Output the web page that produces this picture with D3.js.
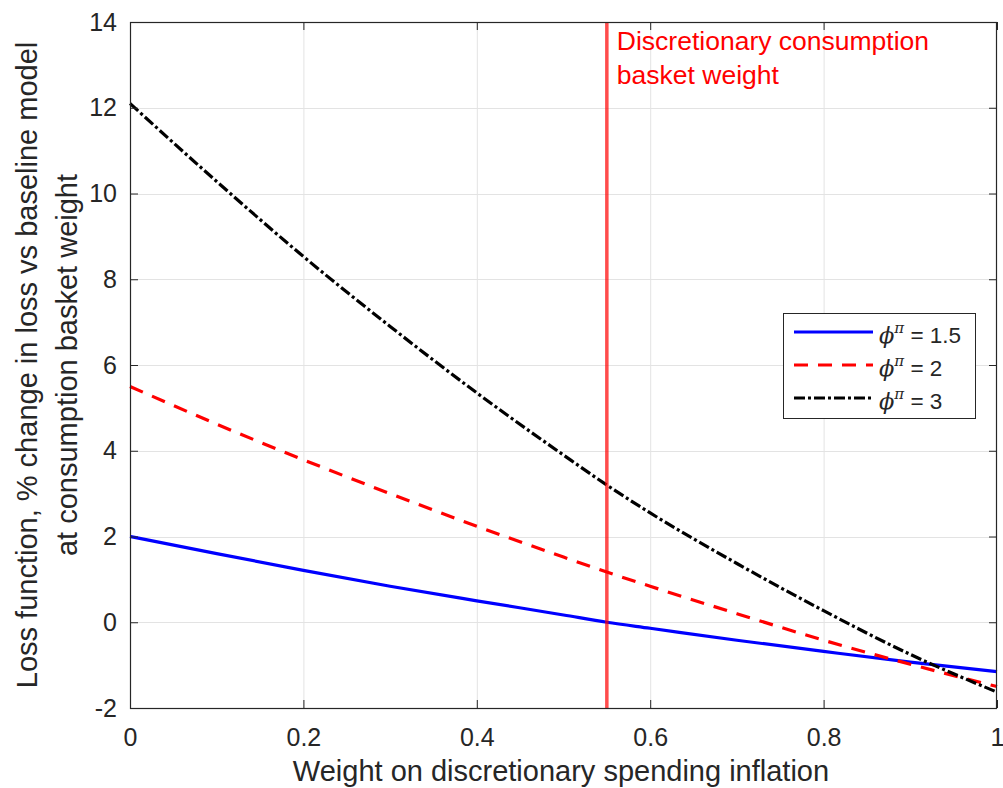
<!DOCTYPE html>
<html lang="en">
<head>
  <meta charset="utf-8">
  <title>Loss function vs weight on discretionary spending inflation</title>
  <style>
    html, body { margin:0; padding:0; background:#fff; overflow:hidden; }
    svg { display:block; font-family:"Liberation Sans", Arial, sans-serif; }
  </style>
</head>
<body>
  <svg id="chart" width="1003" height="788"></svg>
  <script src="https://cdnjs.cloudflare.com/ajax/libs/d3/7.8.5/d3.min.js"></script>
  <script>
    // data
    const weights   = [0, 0.1, 0.2, 0.3, 0.4, 0.5, 0.55, 0.6, 0.7, 0.8, 0.9, 1.0];
    const lossPhi15 = [2.0, 1.6, 1.21, 0.84, 0.5, 0.17, 0.0, -0.14, -0.42, -0.68, -0.93, -1.15];
    const lossPhi2  = [5.5, 4.62, 3.79, 3.0, 2.24, 1.52, 1.17, 0.84, 0.2, -0.42, -0.98, -1.5];
    const lossPhi3  = [12.1, 10.28, 8.53, 6.9, 5.35, 3.9, 3.2, 2.55, 1.37, 0.27, -0.75, -1.63];
    const seriesLabels = ["1.5", "2", "3"];
    const basketWeight = 0.55;
    const xTicks = [0, 0.2, 0.4, 0.6, 0.8, 1];
    const yTicks = [-2, 0, 2, 4, 6, 8, 10, 12, 14];

    const series = [
      {label: seriesLabels[0], values: lossPhi15, color: "#0000ff", dash: null},
      {label: seriesLabels[1], values: lossPhi2,  color: "#ff0000", dash: "14,10"},
      {label: seriesLabels[2], values: lossPhi3,  color: "#000000", dash: "11,3,3,3"}
    ];

    const svg = d3.select("#chart");
    const axisCol = "#262626";
    const pL = 130, pR = 997, pT = 22, pB = 708;

    const x = d3.scaleLinear().domain([0, 1]).range([pL, pR]);
    const y = d3.scaleLinear().domain([-2, 14]).range([pB, pT]);

    // grid
    const grid = svg.append("g").attr("stroke", "#e3e3e3").attr("stroke-width", 1);
    grid.selectAll(".gx").data(xTicks.slice(1, -1)).join("line")
      .attr("x1", d => x(d) + 0.5).attr("x2", d => x(d) + 0.5)
      .attr("y1", pT).attr("y2", pB);
    grid.selectAll(".gy").data(yTicks.slice(1, -1)).join("line")
      .attr("y1", d => Math.round(y(d)) + 0.5).attr("y2", d => Math.round(y(d)) + 0.5)
      .attr("x1", pL).attr("x2", pR);

    // curves
    const line = d3.line().curve(d3.curveMonotoneX)
      .x((d, i) => x(weights[i])).y(d => y(d));

    svg.append("g").selectAll("path").data(series).join("path")
      .attr("d", d => line(d.values))
      .attr("fill", "none")
      .attr("stroke", d => d.color)
      .attr("stroke-width", 3.2)
      .attr("stroke-dasharray", d => d.dash);

    // vertical marker for basket weight
    svg.append("line")
      .attr("x1", x(basketWeight)).attr("x2", x(basketWeight))
      .attr("y1", pT).attr("y2", pB)
      .attr("stroke", "#ff0000").attr("stroke-opacity", 0.7).attr("stroke-width", 3.5);

    svg.append("text")
      .attr("fill", "#ff0000").attr("font-size", 26.5)
      .selectAll("tspan").data(["Discretionary consumption", "basket weight"]).join("tspan")
      .attr("x", x(basketWeight) + 10).attr("y", (d, i) => 50 + i * 34)
      .text(d => d);

    // axes, ticks inside, box on
    const fmt = d => String(d);
    function style(g) {
      g.select(".domain").remove();
      g.selectAll("line").attr("stroke", axisCol);
      g.selectAll("text").attr("fill", axisCol).attr("font-size", 25)
        .attr("font-family", "'Liberation Sans', Arial, sans-serif");
    }
    svg.append("g").attr("transform", `translate(0,${pB})`)
      .call(d3.axisBottom(x).tickValues(xTicks).tickFormat(fmt).tickSize(-8).tickPadding(20))
      .call(style);
    svg.append("g").attr("transform", `translate(0,${pT})`)
      .call(d3.axisTop(x).tickValues(xTicks).tickFormat("").tickSize(-8))
      .call(style);
    svg.append("g").attr("transform", `translate(${pL},0)`)
      .call(d3.axisLeft(y).tickValues(yTicks).tickFormat(fmt).tickSize(-8).tickPadding(13))
      .call(style);
    svg.append("g").attr("transform", `translate(${pR},0)`)
      .call(d3.axisRight(y).tickValues(yTicks).tickFormat("").tickSize(-8))
      .call(style);

    svg.append("rect")
      .attr("x", pL + 0.5).attr("y", pT + 0.5)
      .attr("width", pR - pL - 1).attr("height", pB - pT)
      .attr("fill", "none").attr("stroke", axisCol).attr("stroke-width", 1.2);

    // axis labels
    svg.append("text")
      .attr("x", 561).attr("y", 781)
      .attr("text-anchor", "middle").attr("fill", axisCol).attr("font-size", 29)
      .text("Weight on discretionary spending inflation");

    const ylab = svg.append("text")
      .attr("transform", `translate(0,${(pT + pB) / 2}) rotate(-90)`)
      .attr("text-anchor", "middle").attr("fill", axisCol).attr("font-size", 29);
    ylab.append("tspan").attr("x", 0).attr("y", 37).text("Loss function, % change in loss vs baseline model");
    ylab.append("tspan").attr("x", 0).attr("y", 77).text("at consumption basket weight");

    // legend
    const lg = svg.append("g").attr("transform", "translate(783,313)");
    lg.append("rect").attr("x", 0.5).attr("y", 0.5).attr("width", 192).attr("height", 105)
      .attr("fill", "#fff").attr("stroke", axisCol).attr("stroke-width", 1);
    const rows = lg.selectAll(".row").data(series).join("g")
      .attr("transform", (d, i) => `translate(0,${19 + i * 33})`);
    rows.append("line")
      .attr("x1", 11).attr("x2", 90).attr("y1", 0).attr("y2", 0)
      .attr("stroke", d => d.color).attr("stroke-width", 3.2)
      .attr("stroke-dasharray", d => d.dash);
    const lt = rows.append("text").attr("x", 96).attr("y", 11)
      .attr("fill", axisCol).attr("font-size", 22.5);
    lt.append("tspan").attr("font-family", "'DejaVu Serif', serif").attr("font-style", "italic").text("ϕ");
    lt.append("tspan").attr("font-family", "'DejaVu Serif', serif").attr("font-style", "italic")
      .attr("font-size", 15).attr("dy", -10).text("π");
    lt.append("tspan").attr("dy", 10).text(d => " = " + d.label);
  </script>
</body>
</html>
